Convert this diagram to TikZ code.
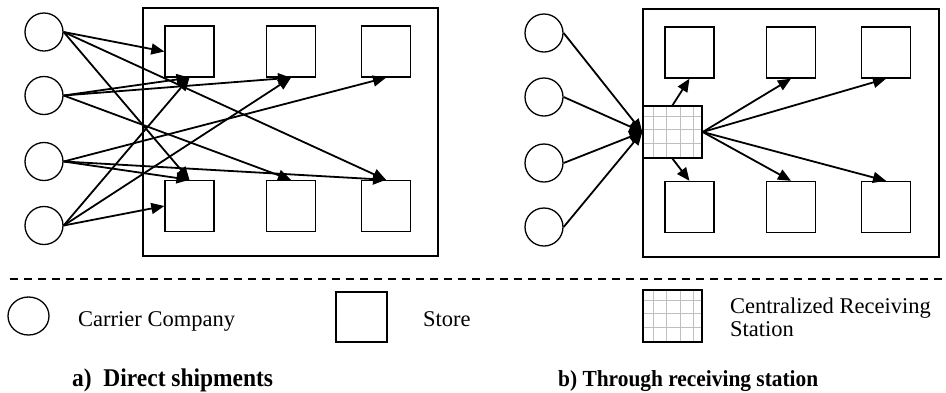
\documentclass[tikz,border=0pt]{standalone}
\usepackage{fontspec}
\setmainfont{Liberation Serif}
\usetikzlibrary{arrows.meta,shapes.geometric}
\begin{document}
\begin{tikzpicture}[x=1pt,y=-1pt,
  carrier/.style={circle,draw,line width=1.3pt,minimum size=38pt,inner sep=0pt},
  store/.style={rectangle,draw,line width=1.4pt,minimum width=49pt,minimum height=51pt,inner sep=0pt},
  area/.style={rectangle,draw,line width=1.4pt,inner sep=0pt},
  station/.style={rectangle,draw,line width=1.4pt,fill=white,minimum width=59pt,minimum height=52pt,inner sep=0pt,
    path picture={
      \foreach \gx in {10,23.5,37,50.5}{\draw[black!25,line width=1pt] ([xshift=\gx pt]path picture bounding box.north west) -- ([xshift=\gx pt]path picture bounding box.south west);}
      \foreach \gx in {10,23.5,37}{\draw[black!25,line width=1pt] ([yshift=-\gx pt]path picture bounding box.north west) -- ([yshift=-\gx pt]path picture bounding box.north east);}
    }},
  flow/.style={line width=1.8pt,-{Triangle[length=13pt,width=11pt]}},
  lbl/.style={font=\fontsize{22.5}{23}\selectfont,anchor=base west,inner sep=0pt},
  capa/.style={font=\fontsize{25.5}{27}\selectfont\bfseries,anchor=base west,inner sep=0pt},
  capb/.style={font=\fontsize{23}{25}\selectfont\bfseries,anchor=base west,inner sep=0pt},
  sep/.style={line width=1.2pt,dash pattern=on 8pt off 6pt}
]
\useasboundingbox (0,0) rectangle (946,392);
\fill[white] (0,0) rectangle (946,392);

% ---------- panel a ----------
\node[area,minimum width=295pt,minimum height=248pt] (boxL) at (290.5,132) {};
\node[store] (aS11) at (189.5,51.5) {};
\node[store] (aS12) at (291,51.5) {};
\node[store] (aS13) at (386,51.5) {};
\node[store] (aS21) at (189.5,206) {};
\node[store] (aS22) at (291,206) {};
\node[store] (aS23) at (386,206) {};
\node[carrier] (aC1) at (44,32) {};
\node[carrier] (aC2) at (44,95.5) {};
\node[carrier] (aC3) at (44,161.5) {};
\node[carrier] (aC4) at (44,225.5) {};

\draw[flow] (aC1.east) -- (aS11.west);
\draw[flow] (aC1.east) -- (aS21.north);
\draw[flow] (aC1.east) -- (aS23.north);
\draw[flow] (aC2.east) -- (aS11.south);
\draw[flow] (aC2.east) -- (aS12.south);
\draw[flow] (aC2.east) -- (aS22.north);
\draw[flow] (aC3.east) -- (aS13.south);
\draw[flow] (aC3.east) -- (aS21.north);
\draw[flow] (aC3.east) -- (aS23.north);
\draw[flow] (aC4.east) -- (aS21.west);
\draw[flow] (aC4.east) -- (aS11.south);
\draw[flow] (aC4.east) -- (aS12.south);

% ---------- panel b ----------
\node[area,minimum width=296pt,minimum height=248pt] (boxR) at (791,133) {};
\node[store] (bS11) at (689.5,52.5) {};
\node[store] (bS12) at (791,52.5) {};
\node[store] (bS13) at (886,52.5) {};
\node[store] (bS21) at (689.5,207) {};
\node[store] (bS22) at (791,207) {};
\node[store] (bS23) at (886,207) {};
\node[carrier] (bC1) at (544,33) {};
\node[carrier] (bC2) at (544,97) {};
\node[carrier] (bC3) at (544,163) {};
\node[carrier] (bC4) at (544,227) {};
\node[station] (R) at (672.5,132) {};

\draw[flow] (bC1.east) -- (R.west);
\draw[flow] (bC2.east) -- (R.west);
\draw[flow] (bC3.east) -- (R.west);
\draw[flow] (bC4.east) -- (R.west);
\draw[flow] (R.north) -- (bS11.south);
\draw[flow] (R.south) -- (bS21.north);
\draw[flow] (R.east) -- (bS12.south);
\draw[flow] (R.east) -- (bS13.south);
\draw[flow] (R.east) -- (bS22.north);
\draw[flow] (R.east) -- (bS23.north);

% ---------- separator ----------
\coordinate (sepL) at (10,279);
\coordinate (sepR) at (946,279);
\draw[sep] (sepL) -- (sepR);

% ---------- legend ----------
\node[ellipse,draw,line width=1.3pt,minimum width=41pt,minimum height=38pt,inner sep=0pt] (legC) at (28.5,316) {};
\node[lbl] (tCarrier) at (78,326) {Carrier Company};
\node[store,minimum width=51pt,minimum height=50pt] (legS) at (361.5,317) {};
\node[lbl] (tStore) at (423,326) {Store};
\node[station] (legR) at (672.5,316) {};
\node[lbl] (tCRS1) at (730,313) {Centralized Receiving};
\node[lbl] (tCRS2) at (730,336) {Station};

% ---------- captions ----------
\node[capa] (capA) at (72,386) {\scalebox{0.92}[1]{a)\ \ Direct shipments}};
\node[capb] (capB) at (558,386) {\scalebox{0.93}[1]{b) Through receiving station}};
\end{tikzpicture}
\end{document}
